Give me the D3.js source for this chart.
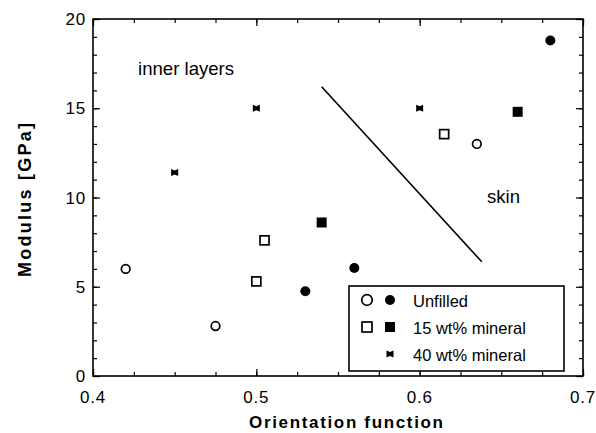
<!DOCTYPE html>
<html>
<head>
<meta charset="utf-8">
<script src="https://cdn.jsdelivr.net/npm/d3@7"></script>
<style>
  body { margin: 0; background: #fff; }
  svg { display: block; font-family: "Liberation Sans", Arial, Helvetica, sans-serif; }
</style>
</head>
<body>
<svg id="chart" width="596" height="433"></svg>
<script>
// Modulus vs. orientation function for moulded samples
const unfilledOpen   = [[0.42, 6.0], [0.475, 2.8], [0.635, 13.0]];
const unfilledFilled = [[0.53, 4.75], [0.56, 6.05], [0.68, 18.8]];
const min15Open      = [[0.50, 5.3], [0.505, 7.6], [0.615, 13.55]];
const min15Filled    = [[0.54, 8.6], [0.66, 14.8]];
const min40          = [[0.45, 11.4], [0.50, 15.0], [0.60, 15.0]];
const boundary       = [[0.54, 16.2], [0.638, 6.4]];

const xTicks = [0.4, 0.5, 0.6, 0.7];
const yTicks = [0, 5, 10, 15, 20];
const legendLabels = ["Unfilled", "15 wt% mineral", "40 wt% mineral"];

const svg = d3.select("#chart");
const plotL = 93, plotR = 583, plotT = 19, plotB = 376;

const x = d3.scaleLinear().domain([0.4, 0.7]).range([plotL, plotR]);
const y = d3.scaleLinear().domain([0, 20]).range([plotB, plotT]);

// frame
svg.append("rect")
  .attr("x", plotL).attr("y", plotT)
  .attr("width", plotR - plotL).attr("height", plotB - plotT)
  .attr("fill", "none").attr("stroke", "#000").attr("stroke-width", 1.6);

// inward ticks on all four sides
const xMinor = d3.range(0, 13).map(i => 0.4 + i * 0.025);
const yMinor = d3.range(0, 21);
function tickSet(axisGen, translate, vals, len) {
  svg.append("g").attr("transform", translate)
    .call(axisGen.tickValues(vals).tickSize(len).tickFormat(""))
    .call(g => g.select(".domain").remove())
    .call(g => g.selectAll("line").attr("stroke", "#000").attr("stroke-width", 1.2));
}
tickSet(d3.axisTop(x), `translate(0,${plotB})`, xMinor, 4);
tickSet(d3.axisTop(x), `translate(0,${plotB})`, xTicks, 7);
tickSet(d3.axisBottom(x), `translate(0,${plotT})`, xMinor, 4);
tickSet(d3.axisBottom(x), `translate(0,${plotT})`, xTicks, 7);
tickSet(d3.axisRight(y), `translate(${plotL},0)`, yMinor, 4);
tickSet(d3.axisRight(y), `translate(${plotL},0)`, yTicks, 7);
tickSet(d3.axisLeft(y), `translate(${plotR},0)`, yMinor, 4);
tickSet(d3.axisLeft(y), `translate(${plotR},0)`, yTicks, 7);

// tick labels
svg.append("g").selectAll("text").data(xTicks).join("text")
  .attr("x", d => x(d)).attr("y", 403)
  .attr("text-anchor", "middle").attr("font-size", 17).attr("letter-spacing", 0.8)
  .text(d => d3.format(".1f")(d));
svg.append("g").selectAll("text").data(yTicks).join("text")
  .attr("x", 86).attr("y", d => y(d) + 6)
  .attr("text-anchor", "end").attr("font-size", 17).attr("letter-spacing", 0.8)
  .text(d => d);

// axis titles
svg.append("text")
  .attr("x", 249).attr("y", 428)
  .attr("font-size", 17).attr("font-weight", "bold")
  .attr("textLength", 194).attr("lengthAdjust", "spacing")
  .text("Orientation  function");
svg.append("text")
  .attr("transform", "translate(31,277) rotate(-90)")
  .attr("font-size", 18).attr("font-weight", "bold")
  .attr("textLength", 154).attr("lengthAdjust", "spacing")
  .text("Modulus  [GPa]");

// region labels
svg.append("text").attr("x", 138).attr("y", 75).attr("font-size", 18.6).text("inner layers");
svg.append("text").attr("x", 487).attr("y", 203).attr("font-size", 18.6).text("skin");

// boundary line
svg.append("path")
  .attr("d", d3.line().x(d => x(d[0])).y(d => y(d[1]))(boundary))
  .attr("fill", "none").attr("stroke", "#000").attr("stroke-width", 1.6);

// marker shapes
const bowtie = "M-3.5,-3.5L0,-2L3.5,-3.5L3.5,3.5L0,2L-3.5,3.5Z";
function circles(data, filled) {
  svg.append("g").selectAll("circle").data(data).join("circle")
    .attr("cx", d => x(d[0])).attr("cy", d => y(d[1])).attr("r", filled ? 5 : 4.3)
    .attr("fill", filled ? "#000" : "#fff").attr("stroke", "#000")
    .attr("stroke-width", filled ? 0 : 1.7);
}
function squares(data, filled) {
  const s = filled ? 10 : 9;
  svg.append("g").selectAll("rect").data(data).join("rect")
    .attr("x", d => x(d[0]) - s / 2).attr("y", d => y(d[1]) - s / 2)
    .attr("width", s).attr("height", s)
    .attr("fill", filled ? "#000" : "#fff").attr("stroke", "#000")
    .attr("stroke-width", filled ? 0 : 1.7);
}
function bowties(data) {
  svg.append("g").selectAll("path").data(data).join("path")
    .attr("transform", d => `translate(${x(d[0])},${y(d[1])})`)
    .attr("d", bowtie).attr("fill", "#000");
}
circles(unfilledOpen, false);
circles(unfilledFilled, true);
squares(min15Open, false);
squares(min15Filled, true);
bowties(min40);

// legend
const lg = svg.append("g");
lg.append("rect").attr("x", 349).attr("y", 286).attr("width", 215).attr("height", 85)
  .attr("fill", "#fff").attr("stroke", "#000").attr("stroke-width", 1.6);
const rowY = [300, 327, 354];
lg.append("circle").attr("cx", 367).attr("cy", rowY[0]).attr("r", 5.3)
  .attr("fill", "#fff").attr("stroke", "#000").attr("stroke-width", 1.7);
lg.append("circle").attr("cx", 390).attr("cy", rowY[0]).attr("r", 5)
  .attr("fill", "#000");
lg.append("rect").attr("x", 362).attr("y", rowY[1] - 5).attr("width", 10).attr("height", 10)
  .attr("fill", "#fff").attr("stroke", "#000").attr("stroke-width", 1.7);
lg.append("rect").attr("x", 385).attr("y", rowY[1] - 5).attr("width", 10).attr("height", 10)
  .attr("fill", "#000");
lg.append("path").attr("transform", `translate(390,${rowY[2]})`).attr("d", bowtie).attr("fill", "#000");
lg.selectAll("text.lab").data(legendLabels).join("text").attr("class", "lab")
  .attr("x", 413).attr("y", (d, i) => rowY[i] + 6.5)
  .attr("font-size", 16.5).text(d => d);
</script>
</body>
</html>
